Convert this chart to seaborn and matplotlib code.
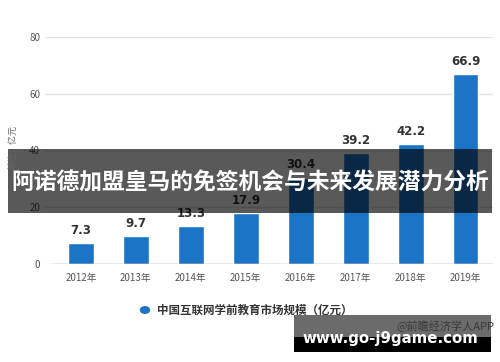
import matplotlib.pyplot as plt
import seaborn as sns
from matplotlib.patches import Rectangle, Circle

years = ['2012年', '2013年', '2014年', '2015年', '2016年', '2017年', '2018年', '2019年']
market_size = [7.3, 9.7, 13.3, 17.9, 30.4, 39.2, 42.2, 66.9]
y_ticks = [0, 20, 40, 60, 80]

title = '阿诺德加盟皇马的免签机会与未来发展潜力分析'
legend_label = '中国互联网学前教育市场规模（亿元）'
y_label = '单位：亿元'
source = '@前瞻经济学人APP'
site = 'www.go-j9game.com'

sns.set_theme(style='white')
plt.rcParams['font.family'] = ['Noto Sans CJK SC', 'DejaVu Sans']

W, H = 500, 362
fig = plt.figure(figsize=(W / 100, H / 100), dpi=100)


def fx(px):
    return px / W


def fy(py):
    return 1 - py / H


ax = fig.add_axes([fx(45), fy(264), fx(493) - fx(45), fy(37) - fy(264)])

sns.barplot(x=years, y=market_size, color='#1b74c5', width=0.47,
            saturation=1, ax=ax)
for c in ax.containers:
    ax.bar_label(c, fmt='%.1f', padding=4.5, fontsize=8.5, color='#333333',
                 fontweight='bold', family=['DejaVu Sans'])

ax.set_ylim(0, 80)
ax.set_xlim(-0.656, 7.5)
ax.set_yticks(y_ticks)
ax.yaxis.grid(True, color='#e4e4e4', linewidth=1)
ax.set_axisbelow(True)
for s in ax.spines.values():
    s.set_visible(False)
ax.axhline(0, xmin=8 / 448, xmax=1, color='#aaaaaa', linewidth=1)
ax.tick_params(axis='both', length=0, labelsize=7, colors='#555555')
ax.tick_params(axis='x', pad=6.5)
ax.tick_params(axis='y', pad=3.5)
ax.set_xlabel('')
ax.set_ylabel('')

fig.text(fx(13), fy(147), y_label, rotation=90, ha='center', va='center',
         fontsize=6.5, color='#666666')

# legend
fig.add_artist(Circle((fx(145), fy(310)), radius=4.5 / W, color='#1b74c5',
                      transform=fig.transFigure))
fig.text(fx(157), fy(310), legend_label, ha='left', va='center',
         fontsize=8.3, fontweight='bold', color='#333333')

# title banner
fig.add_artist(Rectangle((fx(8), fy(213)), fx(492) - fx(8), fy(149) - fy(213),
                         transform=fig.transFigure, color='black', alpha=0.65,
                         linewidth=0))
fig.text(fx(250), fy(183), title, ha='center', va='center', fontsize=16.4,
         fontweight='bold', color='white')

# source + site box
fig.add_artist(Rectangle((fx(294), fy(337)), fx(491) - fx(294), fy(315) - fy(337),
                         transform=fig.transFigure, color='black', alpha=0.58,
                         linewidth=0))
fig.add_artist(Rectangle((fx(294), fy(352)), fx(491) - fx(294), fy(337) - fy(352),
                         transform=fig.transFigure, color='black', linewidth=0))
fig.text(fx(494), fy(326), source, ha='right', va='center', fontsize=8,
         color='#3a3a3a')
fig.text(fx(390), fy(338), site, ha='center', va='center', fontsize=10.8,
         fontweight='bold', color='white', family=['DejaVu Sans'])

fig.savefig('out.png', dpi=100)
